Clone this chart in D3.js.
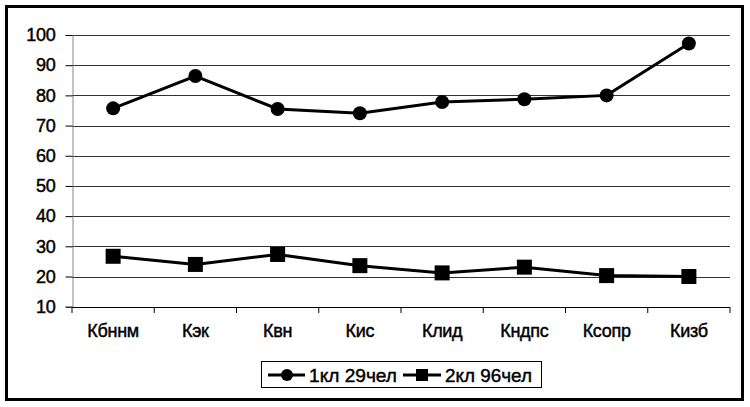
<!DOCTYPE html>
<html><head><meta charset="utf-8">
<script src="https://cdn.jsdelivr.net/npm/d3@7"></script>
<style>body{margin:0;background:#fff}svg{display:block}text{font-family:"Liberation Sans",Arial,sans-serif;stroke:#000;stroke-width:0.45px}</style>
</head><body><svg id="c" width="750" height="407"></svg>
<script>
const categories = ["Кбннм","Кэк","Квн","Кис","Клид","Кндпс","Ксопр","Кизб"];
const series1Name = "1кл 29чел";
const series1 = [75.7, 86.4, 75.5, 74.1, 77.8, 78.7, 80.0, 97.2];
const series2Name = "2кл 96чел";
const series2 = [26.7, 24.0, 27.3, 23.6, 21.2, 23.1, 20.3, 20.0];
const yTicks = [10,20,30,40,50,60,70,80,90,100];

const FS = 18;
const svg = d3.select("#c");
svg.append("rect").attr("x",6.5).attr("y",6.5).attr("width",736).attr("height",393)
  .attr("fill","#fff").attr("stroke","#000").attr("stroke-width",3);

const L=72, R=730, T=35, B=306.7;
const x = d3.scaleBand().domain(categories).range([L,R]);
const y = d3.scaleLinear().domain([10,100]).range([B,T]);

svg.append("g").selectAll("line").data(yTicks.filter(d=>d>10)).join("line")
  .attr("x1",L).attr("x2",R).attr("y1",d=>Math.round(y(d))+0.5).attr("y2",d=>Math.round(y(d))+0.5)
  .attr("stroke","#333").attr("stroke-width",1);

const ya = svg.append("g").attr("transform",`translate(${L+0.5},0)`)
  .call(d3.axisLeft(y).tickValues(yTicks).tickSize(7).tickPadding(10).tickFormat(d3.format("d")));
ya.select(".domain").attr("stroke","#888");
ya.selectAll(".tick line").attr("stroke","#000");
ya.selectAll("text").attr("font-size",FS).attr("fill","#000").attr("letter-spacing","-0.3").style("font-family","'Liberation Sans',Arial,sans-serif");

const xa = svg.append("g").attr("transform",`translate(0,${Math.round(B)+0.5})`)
  .call(d3.axisBottom(x).tickSize(0).tickPadding(17));
xa.select(".domain").attr("stroke","#000").attr("d",`M${L},0H${R}`);
xa.selectAll("text").attr("font-size",FS).attr("fill","#000").style("font-family","'Liberation Sans',Arial,sans-serif").attr("letter-spacing","-0.3");
svg.append("g").selectAll("line").data(d3.range(categories.length+1)).join("line")
  .attr("x1",i=>L+i*x.step()).attr("x2",i=>L+i*x.step())
  .attr("y1",Math.round(B)).attr("y2",Math.round(B)+6).attr("stroke","#000");

const cx = d => x(d)+x.bandwidth()/2;
const line = d3.line().x((d,i)=>cx(categories[i])).y(d=>y(d));

svg.append("path").datum(series1).attr("d",line).attr("fill","none").attr("stroke","#000").attr("stroke-width",3);
svg.append("path").datum(series2).attr("d",line).attr("fill","none").attr("stroke","#000").attr("stroke-width",3);
svg.append("g").selectAll("circle").data(series1).join("circle")
  .attr("cx",(d,i)=>cx(categories[i])).attr("cy",d=>y(d)).attr("r",7).attr("fill","#000");
svg.append("g").selectAll("rect").data(series2).join("rect")
  .attr("x",(d,i)=>cx(categories[i])-7.5).attr("y",d=>y(d)-7.5).attr("width",15).attr("height",15).attr("fill","#000");

const lg = svg.append("g");
lg.append("rect").attr("x",261.5).attr("y",361.5).attr("width",280).attr("height",26).attr("fill","#fff").attr("stroke","#000");
const ly = 375;
lg.append("line").attr("x1",268).attr("x2",305).attr("y1",ly).attr("y2",ly).attr("stroke","#000").attr("stroke-width",3);
lg.append("circle").attr("cx",287).attr("cy",ly).attr("r",6).attr("fill","#000");
lg.append("text").attr("x",309).attr("y",ly+6.5).attr("font-size",19).attr("textLength",88).attr("lengthAdjust","spacingAndGlyphs").text(series1Name);
lg.append("line").attr("x1",403).attr("x2",441).attr("y1",ly).attr("y2",ly).attr("stroke","#000").attr("stroke-width",3);
lg.append("rect").attr("x",416).attr("y",ly-6).attr("width",12).attr("height",12).attr("fill","#000");
lg.append("text").attr("x",445).attr("y",ly+6.5).attr("font-size",19).attr("textLength",87).attr("lengthAdjust","spacingAndGlyphs").text(series2Name);
</script></body></html>
